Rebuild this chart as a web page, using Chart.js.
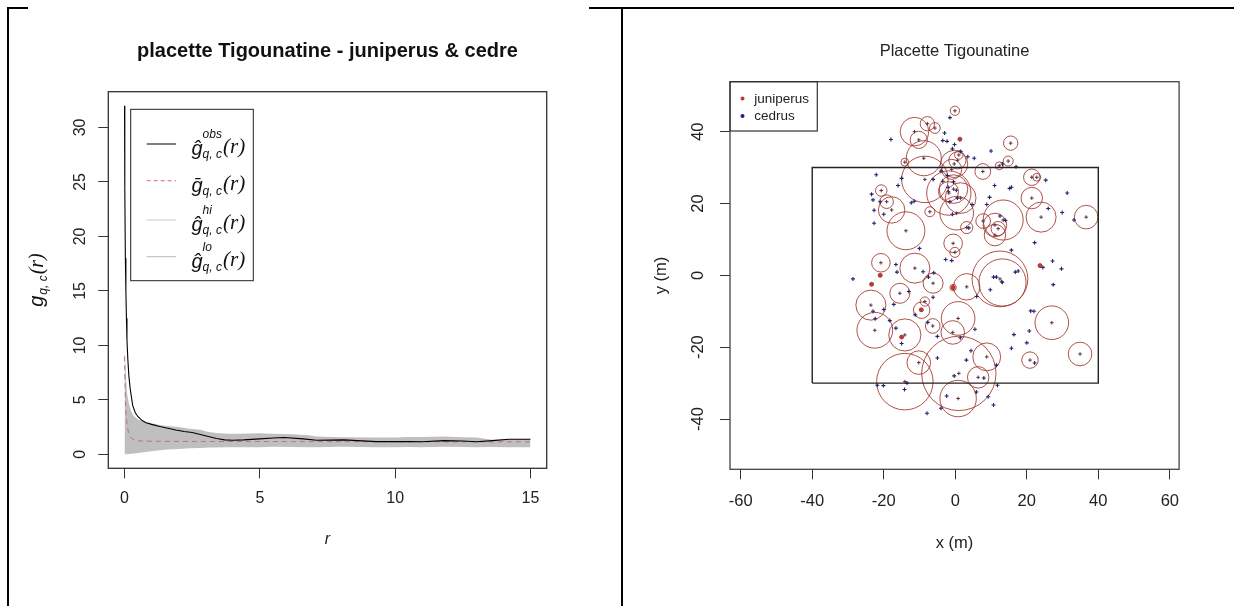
<!DOCTYPE html>
<html>
<head>
<meta charset="utf-8">
<script src="https://cdn.jsdelivr.net/npm/chart.js@4.4.1/dist/chart.umd.min.js"></script>
<style>
  html, body { margin: 0; padding: 0; background: #fff; }
  #page { position: relative; width: 1234px; height: 606px; overflow: hidden; }
  #gChart { position: absolute; left: 0; top: 0; }
  #mapChart { position: absolute; left: 620px; top: 0; }
  .rule { position: absolute; background: #000; }
</style>
</head>
<body>
<div id="page">
  <canvas id="gChart" width="620" height="606"></canvas>
  <canvas id="mapChart" width="614" height="606"></canvas>
  <div class="rule" style="left:7px;top:7px;width:2px;height:599px"></div>
  <div class="rule" style="left:7px;top:7px;width:21px;height:2px"></div>
  <div class="rule" style="left:589px;top:7px;width:645px;height:2px"></div>
  <div class="rule" style="left:621px;top:7px;width:2px;height:599px"></div>
</div>
<script>
const FONT = '"Liberation Sans", Arial, sans-serif';
const SERIF = '"Liberation Serif", "Times New Roman", serif';

// ---- left: pair correlation function g(r)
const rObs = [0, 0.01, 0.03, 0.05, 0.07, 0.09, 0.12, 0.16, 0.21, 0.3, 0.4, 0.5, 0.65, 0.8, 1.0, 1.3, 1.6, 1.9, 2.2, 2.5, 2.8, 3.1, 3.4, 3.7, 4.0, 4.4, 5.0, 5.5, 5.9, 6.6, 7.1, 8.1, 9.3, 10.5, 11.0, 11.8, 12.5, 13.0, 13.6, 14.2, 15.0];
const gObs = [32, 24.5, 18, 15, 12.5, 10.5, 8.8, 7.2, 6.0, 4.5, 3.8, 3.45, 3.1, 2.9, 2.75, 2.55, 2.4, 2.24, 2.1, 2.0, 1.82, 1.63, 1.45, 1.33, 1.3, 1.33, 1.42, 1.5, 1.55, 1.42, 1.3, 1.33, 1.17, 1.17, 1.15, 1.26, 1.22, 1.15, 1.26, 1.39, 1.39];
const rTheo = [0, 0.02, 0.04, 0.07, 0.1, 0.15, 0.2, 0.3, 0.5, 1.0, 3.0, 6.0, 9.0, 12.0, 15.0];
const gTheo = [9.0, 6.2, 4.5, 3.3, 2.6, 2.0, 1.65, 1.38, 1.24, 1.2, 1.18, 1.17, 1.16, 1.15, 1.15];
const rEnv = [0, 0.03, 0.06, 0.1, 0.16, 0.25, 0.35, 0.5, 0.7, 1.0, 1.3, 1.6, 2.0, 2.4, 2.8, 3.1, 3.4, 3.8, 4.2, 5.0, 5.5, 6.2, 6.8, 7.1, 8.0, 9.3, 10.0, 10.5, 11.0, 11.8, 12.5, 13.0, 13.6, 14.2, 15.0];
const gHi = [9.8, 8.5, 6.8, 5.5, 4.7, 3.9, 3.5, 3.2, 3.0, 2.85, 2.7, 2.6, 2.5, 2.35, 2.25, 2.05, 1.95, 1.9, 1.9, 1.94, 1.9, 1.85, 1.75, 1.63, 1.58, 1.54, 1.55, 1.6, 1.6, 1.63, 1.58, 1.54, 1.33, 1.38, 1.4];
const gLo = [0, 0, 0.01, 0.02, 0.03, 0.05, 0.08, 0.12, 0.2, 0.28, 0.38, 0.45, 0.5, 0.55, 0.58, 0.62, 0.64, 0.66, 0.66, 0.66, 0.7, 0.68, 0.66, 0.66, 0.7, 0.66, 0.66, 0.68, 0.66, 0.7, 0.68, 0.66, 0.68, 0.66, 0.66];
const rTicks = [0, 5, 10, 15];
const gTicks = [0, 5, 10, 15, 20, 25, 30];

// ---- right: tree map (x, y, crown radius in m)
const juniperCircles = [
  [-0.1, 45.8, 1.3], [-11.4, 40.0, 4.0], [-7.8, 42.2, 2.0], [-5.7, 41.0, 1.5], [-10.2, 37.7, 2.4],
  [-8.8, 32.6, 4.9], [-14.1, 31.5, 1.1], [15.5, 36.8, 2.0], [14.8, 31.8, 1.4], [12.3, 30.5, 1.1],
  [7.7, 28.9, 2.2], [-0.3, 31.0, 3.8], [0.6, 32.0, 2.4], [1.0, 33.5, 1.2], [-1.0, 29.5, 2.8],
  [-8.5, 26.7, 6.5], [-1.8, 22.9, 6.2], [-0.5, 24.0, 4.0], [-1.9, 23.3, 2.8], [1.5, 21.5, 4.3],
  [21.4, 27.3, 2.3], [22.8, 27.3, 1.1], [21.4, 21.5, 3.0], [24.0, 16.2, 4.2], [36.6, 16.2, 3.3],
  [13.4, 15.4, 5.6], [11.1, 14.0, 3.3], [11.1, 11.2, 3.0], [12.0, 13.0, 2.0], [7.8, 15.1, 2.05],
  [3.2, 13.3, 1.7], [0.4, 17.3, 4.7], [-7.1, 17.7, 1.4], [-17.8, 18.2, 3.7], [-19.2, 20.5, 1.9],
  [-20.7, 23.6, 1.6], [-13.8, 12.4, 5.3], [-0.6, 8.9, 2.6], [-0.1, 6.4, 1.4], [-20.8, 3.5, 2.6],
  [-11.3, 2.0, 4.2], [-6.2, -2.2, 2.8], [12.5, -1.0, 7.8], [13.2, -2.0, 6.6], [3.2, -3.2, 3.7],
  [-0.6, -3.4, 0.9], [-15.5, -5.0, 2.8], [-23.6, -8.3, 4.2], [-8.5, -7.3, 1.3], [-9.4, -9.7, 2.3],
  [-22.5, -15.3, 5.0], [-14.1, -16.6, 4.5], [-6.3, -14.1, 2.05], [0.8, -12.0, 4.7], [-0.7, -15.9, 3.3],
  [27.0, -13.2, 4.7], [8.8, -22.7, 3.9], [34.9, -21.9, 3.3], [20.9, -23.6, 2.3], [-10.2, -24.3, 3.3],
  [-14.1, -29.6, 7.9], [1.0, -27.3, 10.4], [0.8, -34.3, 5.1], [6.4, -28.4, 3.0]
];
const juniperDots = [[-21.0, 0.0], [-23.4, -2.5], [23.7, 2.7], [1.3, 37.9], [-15.0, -17.2], [-9.5, -9.6], [-0.6, -3.4]];
const cedrusPts = [
  [-1.5, 43.9], [-18, 37.8], [-3, 39.6], [-3.5, 37.5], [-2.3, 37.3], [-0.2, 36.4], [-0.8, 35.2], [5.3, 32.6],
  [10, 34.6], [13.2, 31], [17, 30.2], [-22.1, 28], [-23.4, 22.6], [-22.7, 18.1], [-22.7, 14.5], [-15, 27],
  [25.3, 26.5], [26, 18.6], [31.3, 22.9], [29.9, 17.5], [33.2, 15.4], [22.2, 9.1], [15.7, 7], [27.2, 4],
  [29.7, 1.8], [27.4, -2.6], [-28.6, -1], [-16.6, 3], [-16.3, 0.9], [16.8, 0.9], [17.6, 1.2], [21.1, -9.9],
  [20.7, -15.5], [16.4, -16.5], [20, -18.8], [15.7, -20.3], [22.2, -24.4], [11.8, -30.6], [10.7, -36.1],
  [9.2, -33.8], [-7.9, -38.4], [-4, -37], [-20.1, -30.7], [-21.8, -30.6], [-14.2, -31.8], [-2.4, -33.6],
  [3.1, -23.6], [1.4, -17.4], [-15, -19], [-18.3, -12.6], [-22.4, -12.1], [-17.2, -8.1], [-16.6, -14.7],
  [-11.2, -11], [-7.7, -13.1], [-6.2, -6.1], [6, -5.9], [10.7, -0.5], [-2.7, 4.4], [-1, 4.1], [3.8, 13.2],
  [4.7, 19.7], [-0.8, 17], [0.3, 23.7], [-2, 24.5], [-3.5, 26.2], [-6.2, 26.7], [-12.3, 20.2], [-11.5, 20.6],
  [8.8, 19.7], [9.6, 21.7], [15.7, 24.5], [15.2, 24.2], [-23, 21], [-21, 20.5], [-20, 17], [-16, 25],
  [-10, 7.5], [-6, 0.7], [-7.5, -0.5], [-4, 29], [-2.2, 27.8], [1.5, 34.5], [3.5, 33], [-0.5, 26],
  [0.6, 21.5], [-1.5, 20.5], [12.5, 16.5], [11, 25], [14, 15.3], [24.5, 2.2], [22, -10], [-20, -9.5],
  [-23, -10], [-13, -4.5], [-9, 1], [11.5, -0.5], [13, -1.8], [9.8, -4], [-5, -17], [-0.3, -28], [5.5, -15],
  [5.9, -32.5], [8, -28.6], [11.5, -25], [4.4, -21], [-13.5, -30], [-5, -23]
];
const plotX = [-40, 40];
const plotY = [-30, 30];
const xTicks = [-60, -40, -20, 0, 20, 40, 60];
const yTicks = [-40, -20, 0, 20, 40];

const pts = (xs, ys) => xs.map((x, i) => ({ x: x, y: ys[i] }));

// draws a run of text pieces left to right; a piece with sup/sub stacks them
function runWidth(ctx, parts) {
  let w = 0;
  parts.forEach(p => {
    ctx.font = p.f;
    if (p.sup !== undefined) {
      w += Math.max(ctx.measureText(p.sup).width, ctx.measureText(p.sub).width) + (p.gap || 0);
    } else {
      w += ctx.measureText(p.t).width + (p.gap || 0);
    }
  });
  return w;
}
function drawRun(ctx, x, y, parts) {
  let cx = x;
  parts.forEach(p => {
    ctx.font = p.f;
    if (p.sup !== undefined) {
      ctx.fillText(p.sup, cx, y + p.up);
      ctx.fillText(p.sub, cx, y + p.down);
      cx += Math.max(ctx.measureText(p.sup).width, ctx.measureText(p.sub).width) + (p.gap || 0);
    } else {
      ctx.fillText(p.t, cx, y + (p.dy || 0));
      cx += ctx.measureText(p.t).width + (p.gap || 0);
    }
  });
}

function fixedAxis(size, isX, ticks) {
  return {
    afterFit: s => { if (isX) s.height = size; else s.width = size; },
    afterBuildTicks: s => { s.ticks = ticks.map(v => ({ value: v })); },
    border: { display: false },
    grid: { drawOnChartArea: false, drawTicks: true, tickLength: 10, tickColor: '#333', tickWidth: 1 },
    ticks: { display: false }
  };
}

const gDecor = {
  id: 'gDecor',
  afterDraw(chart) {
    const { ctx, chartArea: a, scales: { x, y } } = chart;
    const cx = (a.left + a.right) / 2;
    ctx.save();
    ctx.strokeStyle = '#333';
    ctx.lineWidth = 1.3;
    ctx.strokeRect(a.left, a.top, a.right - a.left, a.bottom - a.top);

    ctx.fillStyle = '#111';
    ctx.textAlign = 'center';
    ctx.textBaseline = 'middle';
    ctx.font = 'bold 20px ' + FONT;
    ctx.fillText('placette Tigounatine - juniperus & cedre', cx, 51);

    ctx.fillStyle = '#222';
    ctx.font = '16px ' + FONT;
    rTicks.forEach(v => ctx.fillText(String(v), x.getPixelForValue(v), 499));
    gTicks.forEach(v => {
      ctx.save();
      ctx.translate(80.6, y.getPixelForValue(v));
      ctx.rotate(-Math.PI / 2);
      ctx.fillText(String(v), 0, 0);
      ctx.restore();
    });
    ctx.font = 'italic 16px ' + FONT;
    ctx.fillText('r', cx, 540);

    // y axis title g_{q,c}(r)
    ctx.textAlign = 'left';
    ctx.textBaseline = 'alphabetic';
    const yLab = [
      { t: 'g', f: 'italic 20px ' + FONT, gap: 1 },
      { t: 'q, c', f: 'italic 12px ' + FONT, dy: 4, gap: 1 },
      { t: '(r)', f: 'italic 20px ' + SERIF }
    ];
    ctx.save();
    ctx.translate(37.5, (a.top + a.bottom) / 2);
    ctx.rotate(-Math.PI / 2);
    ctx.fillStyle = '#111';
    drawRun(ctx, -runWidth(ctx, yLab) / 2, 5, yLab);
    ctx.restore();

    // legend
    ctx.strokeStyle = '#222';
    ctx.lineWidth = 1;
    ctx.strokeRect(130.7, 109.3, 122.6, 171.4);
    const rows = [
      { y: 144, g: 'ĝ', sup: 'obs', col: '#000', dash: [] },
      { y: 180.7, g: 'ḡ', sup: '', col: '#d06a80', dash: [4, 3] },
      { y: 220, g: 'ĝ', sup: 'hi', col: '#c8c8c8', dash: [] },
      { y: 256.7, g: 'ĝ', sup: 'lo', col: '#b8b8b8', dash: [] }
    ];
    rows.forEach(row => {
      ctx.strokeStyle = row.col;
      ctx.setLineDash(row.dash);
      ctx.beginPath();
      ctx.moveTo(146.7, row.y);
      ctx.lineTo(176, row.y);
      ctx.stroke();
      ctx.setLineDash([]);
      ctx.fillStyle = '#111';
      drawRun(ctx, 191.5, row.y + 11, [
        { t: row.g, f: 'italic 20px ' + FONT, gap: 0 },
        { sup: row.sup, sub: 'q, c', f: 'italic 12px ' + FONT, up: -17, down: 3, gap: 1 },
        { t: '(r)', f: 'italic 21px ' + SERIF, dy: -2 }
      ]);
    });
    ctx.restore();
  }
};

new Chart(document.getElementById('gChart'), {
  type: 'line',
  data: {
    datasets: [
      { data: pts(rObs, gObs), borderColor: '#000', borderWidth: 1.1, pointRadius: 0, fill: false, order: 0 },
      { data: pts(rTheo, gTheo), borderColor: '#d06a80', borderWidth: 1, borderDash: [5, 4], pointRadius: 0, fill: false, order: 1 },
      { data: pts(rEnv, gHi), borderWidth: 0, pointRadius: 0, backgroundColor: '#bfbfbf', fill: '+1', order: 2 },
      { data: pts(rEnv, gLo), borderWidth: 0, pointRadius: 0, fill: false, order: 3 }
    ]
  },
  options: {
    responsive: false,
    animation: false,
    events: [],
    layout: { padding: { left: 0, top: 91.7, right: 73.3, bottom: 0 } },
    plugins: { legend: { display: false }, title: { display: false }, tooltip: { enabled: false } },
    scales: {
      x: Object.assign({ type: 'linear', min: -0.6, max: 15.6 }, fixedAxis(137.7, true, rTicks)),
      y: Object.assign({ type: 'linear', min: -1.28, max: 33.28 }, fixedAxis(108.3, false, gTicks))
    }
  },
  plugins: [gDecor]
});

const mapDecor = {
  id: 'mapDecor',
  afterDraw(chart) {
    const { ctx, chartArea: a, scales: { x, y } } = chart;
    const cx = (a.left + a.right) / 2;
    ctx.save();
    ctx.strokeStyle = '#444';
    ctx.lineWidth = 1.3;
    ctx.strokeRect(a.left, a.top, a.right - a.left, a.bottom - a.top);

    ctx.fillStyle = '#222';
    ctx.textAlign = 'center';
    ctx.textBaseline = 'middle';
    ctx.font = '16.5px ' + FONT;
    ctx.fillText('Placette Tigounatine', cx, 51.4);
    xTicks.forEach(v => ctx.fillText(String(v), x.getPixelForValue(v), 501.3));
    yTicks.forEach(v => {
      ctx.save();
      ctx.translate(78.3, y.getPixelForValue(v));
      ctx.rotate(-Math.PI / 2);
      ctx.fillText(String(v), 0, 0);
      ctx.restore();
    });
    ctx.fillText('x (m)', cx, 543);
    ctx.save();
    ctx.translate(41, (a.top + a.bottom) / 2);
    ctx.rotate(-Math.PI / 2);
    ctx.fillText('y (m)', 0, 0);
    ctx.restore();

    // legend
    ctx.strokeStyle = '#333';
    ctx.lineWidth = 1.2;
    ctx.strokeRect(a.left, a.top, 87.3, 49.3);
    ctx.fillStyle = '#b83a3a';
    ctx.beginPath(); ctx.arc(a.left + 12.5, 98.6, 2, 0, 2 * Math.PI); ctx.fill();
    ctx.fillStyle = '#1e1e8a';
    ctx.beginPath(); ctx.arc(a.left + 12.5, 116, 2, 0, 2 * Math.PI); ctx.fill();
    ctx.fillStyle = '#222';
    ctx.textAlign = 'left';
    ctx.font = '13.5px ' + FONT;
    ctx.fillText('juniperus', a.left + 24.3, 99);
    ctx.fillText('cedrus', a.left + 24.3, 116.5);
    ctx.restore();
  }
};

const crownRadius = c => {
  if (!c.raw) return 0;
  const s = c.chart.scales.x;
  return Math.abs(s.getPixelForValue(c.raw.r) - s.getPixelForValue(0));
};

new Chart(document.getElementById('mapChart'), {
  type: 'scatter',
  data: {
    datasets: [
      {
        data: juniperCircles.map(([x, y, r]) => ({ x: x, y: y, r: r })),
        pointStyle: 'circle', pointRadius: crownRadius,
        backgroundColor: 'rgba(0,0,0,0)', borderColor: 'rgba(160,52,42,0.85)', borderWidth: 1, order: 4
      },
      {
        data: juniperCircles.map(([x, y]) => ({ x: x, y: y })),
        pointStyle: 'cross', pointRadius: 1.8, borderColor: '#5a3040', borderWidth: 1, order: 3
      },
      {
        data: cedrusPts.map(([x, y]) => ({ x: x, y: y })),
        pointStyle: 'cross', pointRadius: 2, borderColor: '#22226e', borderWidth: 1.1, order: 2
      },
      {
        data: juniperDots.map(([x, y]) => ({ x: x, y: y })),
        pointStyle: 'circle', pointRadius: 2, backgroundColor: '#b83838', borderColor: '#b83838', borderWidth: 1, order: 1
      },
      {
        data: [
          { x: plotX[0], y: plotY[0] }, { x: plotX[1], y: plotY[0] }, { x: plotX[1], y: plotY[1] },
          { x: plotX[0], y: plotY[1] }, { x: plotX[0], y: plotY[0] }
        ],
        showLine: true, pointRadius: 0, borderColor: '#222', borderWidth: 1.4, order: 0
      }
    ]
  },
  options: {
    responsive: false,
    animation: false,
    events: [],
    layout: { padding: { left: 0, top: 81.7, right: 54.9, bottom: 0 } },
    plugins: { legend: { display: false }, title: { display: false }, tooltip: { enabled: false } },
    scales: {
      x: Object.assign({ type: 'linear', min: -63.0, max: 62.6 }, fixedAxis(136.7, true, xTicks)),
      y: Object.assign({ type: 'linear', min: -54.0, max: 53.9 }, fixedAxis(110, false, yTicks))
    }
  },
  plugins: [mapDecor]
});
</script>
</body>
</html>
